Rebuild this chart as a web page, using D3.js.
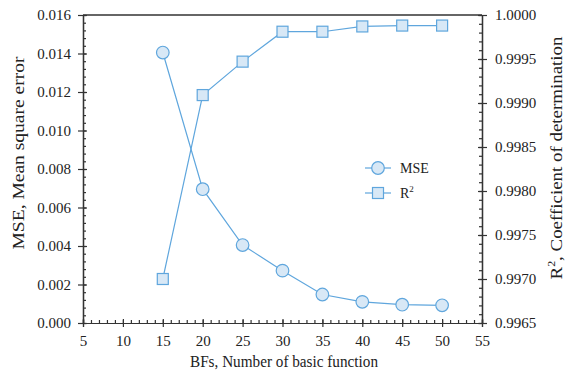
<!DOCTYPE html>
<html>
<head>
<meta charset="utf-8">
<script src="https://cdn.jsdelivr.net/npm/d3@7"></script>
<style>
body { margin: 0; background: #fff; }
.axis path, .axis line { stroke: #333; stroke-width: 1.2px; }
</style>
</head>
<body>
<script>
// data
var bfs = [15, 20, 25, 30, 35, 40, 45, 50];
var mse = [0.01405, 0.00695, 0.00405, 0.00272, 0.00148, 0.00110, 0.00095, 0.00092];
var r2 = [0.99700, 0.99909, 0.99947, 0.99981, 0.99981, 0.99987, 0.99988, 0.99988];
var xTicks = [5, 10, 15, 20, 25, 30, 35, 40, 45, 50, 55];
var mseTicks = [0, 0.002, 0.004, 0.006, 0.008, 0.010, 0.012, 0.014, 0.016];
var r2Ticks = [0.9965, 0.9970, 0.9975, 0.9980, 0.9985, 0.9990, 0.9995, 1.0000];

var serif = "'Liberation Serif', 'Times New Roman', serif";
var margin = { top: 15, right: 83, bottom: 54, left: 83 };
var W = 565, H = 377;
var width = W - margin.left - margin.right;
var height = H - margin.top - margin.bottom;

var lineColor = "#5fa6dd";
var fillColor = "#d8e8f6";

var svg = d3.select("body").append("svg")
    .attr("width", W)
    .attr("height", H)
  .append("g")
    .attr("transform", "translate(" + margin.left + "," + margin.top + ")");

var x = d3.scaleLinear().domain([5, 55]).range([0, width]);
var yL = d3.scaleLinear().domain([0, 0.016]).range([height, 0]);
var yR = d3.scaleLinear().domain([0.9965, 1.0]).range([height, 0]);

// minor ticks
var xMinor = d3.range(5, 55.01, 1);
var yLMinor = d3.range(0, 0.01601, 0.0004);
var yRMinor = d3.range(0, 36).map(function(i) { return 0.9965 + i * 0.0001; });

// top frame line
svg.append("line")
  .attr("x1", 0).attr("x2", width)
  .attr("y1", 0).attr("y2", 0)
  .attr("stroke", "#333").attr("stroke-width", 1.6);

// bottom axis
svg.append("g").attr("class", "axis")
  .attr("transform", "translate(0," + height + ")")
  .call(d3.axisBottom(x).tickValues(xMinor).tickSize(-3).tickFormat(""));
svg.append("g").attr("class", "axis")
  .attr("transform", "translate(0," + height + ")")
  .call(d3.axisBottom(x).tickValues(xTicks).tickSize(-4).tickFormat(""));
svg.append("g").attr("class", "axis")
  .attr("transform", "translate(0," + height + ")")
  .call(d3.axisBottom(x).tickValues(xTicks).tickSize(4).tickPadding(8).tickFormat(d3.format("d")));

// left axis
svg.append("g").attr("class", "axis")
  .call(d3.axisLeft(yL).tickValues(yLMinor).tickSize(-3).tickFormat(""));
svg.append("g").attr("class", "axis")
  .call(d3.axisLeft(yL).tickValues(mseTicks).tickSize(-4).tickFormat(""));
svg.append("g").attr("class", "axis")
  .call(d3.axisLeft(yL).tickValues(mseTicks).tickSize(5).tickPadding(7).tickFormat(d3.format(".3f")));

// right axis
svg.append("g").attr("class", "axis")
  .attr("transform", "translate(" + width + ",0)")
  .call(d3.axisRight(yR).tickValues(yRMinor).tickSize(-3).tickFormat(""));
svg.append("g").attr("class", "axis")
  .attr("transform", "translate(" + width + ",0)")
  .call(d3.axisRight(yR).tickValues(r2Ticks).tickSize(-4).tickFormat(""));
svg.append("g").attr("class", "axis")
  .attr("transform", "translate(" + width + ",0)")
  .call(d3.axisRight(yR).tickValues(r2Ticks).tickSize(5).tickPadding(8).tickFormat(d3.format(".4f")));

svg.selectAll(".tick text")
  .style("font-family", serif)
  .style("font-size", "15px")
  .style("fill", "#222");

// series lines
var lineL = d3.line().x(function(d, i) { return x(bfs[i]); }).y(function(d) { return yL(d); });
var lineR = d3.line().x(function(d, i) { return x(bfs[i]); }).y(function(d) { return yR(d); });

svg.append("path").datum(mse)
  .attr("d", lineL).attr("fill", "none")
  .attr("stroke", lineColor).attr("stroke-width", 1.2);
svg.append("path").datum(r2)
  .attr("d", lineR).attr("fill", "none")
  .attr("stroke", lineColor).attr("stroke-width", 1.2);

svg.selectAll("circle.mse")
  .data(mse)
  .enter().append("circle")
  .attr("class", "mse")
  .attr("cx", function(d, i) { return x(bfs[i]); })
  .attr("cy", function(d) { return yL(d); })
  .attr("r", 6.3)
  .attr("fill", fillColor)
  .attr("stroke", lineColor)
  .attr("stroke-width", 1.2);

svg.selectAll("rect.r2")
  .data(r2)
  .enter().append("rect")
  .attr("class", "r2")
  .attr("x", function(d, i) { return x(bfs[i]) - 5.5; })
  .attr("y", function(d) { return yR(d) - 5.5; })
  .attr("width", 11)
  .attr("height", 11)
  .attr("fill", fillColor)
  .attr("stroke", lineColor)
  .attr("stroke-width", 1.2);

// legend
var legend = svg.append("g").attr("transform", "translate(282,153)");
legend.append("line").attr("x1", 0).attr("x2", 26).attr("y1", 0).attr("y2", 0)
  .attr("stroke", lineColor).attr("stroke-width", 1.2);
legend.append("circle").attr("cx", 13).attr("cy", 0).attr("r", 6.3)
  .attr("fill", fillColor).attr("stroke", lineColor).attr("stroke-width", 1.2);
legend.append("text").attr("x", 35).attr("y", 5)
  .style("font-family", serif).style("font-size", "14px").style("fill", "#222")
  .text("MSE");
legend.append("line").attr("x1", 0).attr("x2", 26).attr("y1", 25).attr("y2", 25)
  .attr("stroke", lineColor).attr("stroke-width", 1.2);
legend.append("rect").attr("x", 7.5).attr("y", 19.5).attr("width", 11).attr("height", 11)
  .attr("fill", fillColor).attr("stroke", lineColor).attr("stroke-width", 1.2);
var r2Text = legend.append("text").attr("x", 35).attr("y", 30)
  .style("font-family", serif).style("font-size", "14px").style("fill", "#222")
  .text("R");
r2Text.append("tspan").attr("dy", -6).style("font-size", "9px").text("2");

// axis titles
function title(t) {
  return t.style("font-family", serif).style("font-size", "17.5px").style("fill", "#222")
    .attr("text-anchor", "middle").attr("lengthAdjust", "spacingAndGlyphs");
}

title(svg.append("text"))
  .attr("x", 201).attr("y", height + 44)
  .attr("textLength", 188)
  .text("BFs, Number of basic function");

title(svg.append("text"))
  .attr("transform", "rotate(-90)")
  .attr("x", -138).attr("y", -59)
  .attr("textLength", 193)
  .text("MSE, Mean square error");

var rt = title(svg.append("text"))
  .attr("transform", "rotate(-90)")
  .attr("x", -143).attr("y", width + 80)
  .attr("textLength", 243);
rt.append("tspan").text("R");
rt.append("tspan").attr("dy", -7).style("font-size", "11px").text("2");
rt.append("tspan").attr("dy", 7).text(", Coefficient  of determination");
</script>
</body>
</html>
